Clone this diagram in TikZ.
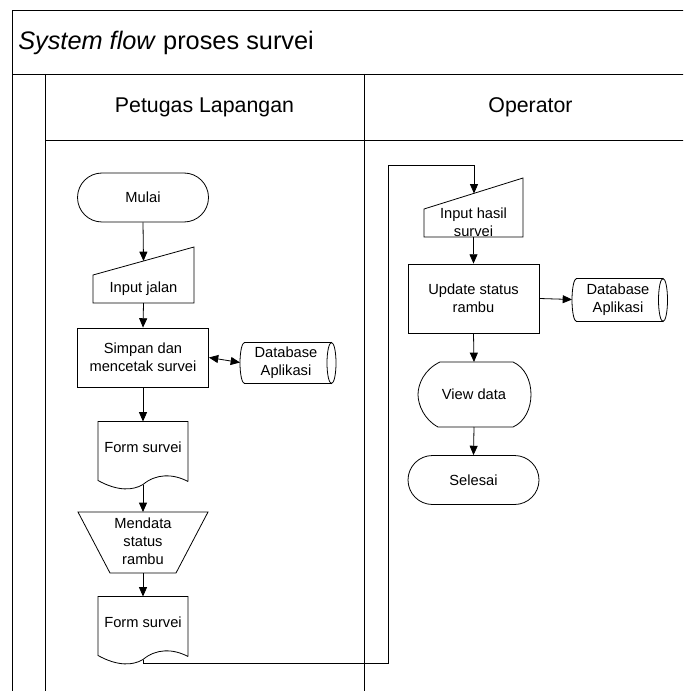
\documentclass[tikz,border=0pt]{standalone}
\usepackage{fontspec}
\setmainfont{Liberation Sans}
\usetikzlibrary{shapes.misc,arrows.meta,calc}

\begin{document}
\begin{tikzpicture}
[x=0.75pt,y=-0.75pt,%
  linedecorate/.style={line width=0.6pt},%
  arrowdecorate/.style={line width=0.6pt,-{Triangle[length=7pt,width=6pt]}},%
  textdecorate/.style={font=\fontsize{11}{13.5}\selectfont,align=center,inner sep=0pt},%
  terminal/.style={textdecorate,shape=rounded rectangle,draw,line width=0.6pt,
    minimum width=98.25pt,minimum height=36.75pt},%
  prosesbox/.style={textdecorate,shape=rectangle,draw,line width=0.6pt,
    minimum width=98.25pt,minimum height=#1},%
  freebox/.style={textdecorate}]
%% page and swimlanes
\useasboundingbox (0,0) rectangle (683,691);
\fill[white] (0,0) rectangle (683,691);
\clip (0,0) rectangle (683,691);
\draw[linedecorate] (700,10) -| (12,700);
\draw[linedecorate] (12,74) -- (700,74);
\draw[linedecorate] (45,74) -- (45,700);
\draw[linedecorate] (45,140) -- (700,140);
\draw[linedecorate] (364,74) -- (364,700);
\node (judul) [anchor=west,inner sep=0pt,font=\fontsize{19}{23}\selectfont]
  at (18,43) {\textit{System flow} proses survei};
\node (petugas) [font=\fontsize{16}{19}\selectfont] at (204.5,107) {Petugas Lapangan};
\node (operator) [font=\fontsize{16}{19}\selectfont] at (530.5,107) {Operator};
%% symbols with their own shape
\node (mulai) at (143,197.5) [terminal] {Mulai};
\node (selesai) at (473.5,480) [terminal] {Selesai};
\node (simpan) at (143,357.5) [prosesbox=44.25pt] {Simpan dan\\mencetak survei};
\node (update) at (473.5,298.5) [prosesbox=51.75pt] {Update status\\rambu};
%% symbols drawn by hand (only text here)
\foreach \nodename/\x/\y/\labeltext in {injalan/143.5/289/{Input jalan},
  inhasil/473.5/222/{Input hasil\\survei}, dbsatu/286/363/{Database\\Aplikasi},
  dbdua/618/300/{Database\\Aplikasi}, formsatu/143/447/{Form survei},
  mendata/143/541.5/{Mendata\\status\\rambu}, formdua/143/622/{Form survei},
  lihat/474/394.5/{View data}} {
  \node (\nodename) at (\x,\y) [freebox] {\labeltext};
}
% manual input
\draw[linedecorate] ($(injalan)+(-50.5,14)$) -- ($(injalan)+(50.5,14)$)
  -- ($(injalan)+(50.5,-42)$) -- ($(injalan)+(-50.5,-14)$) -- cycle;
\draw[linedecorate] ($(inhasil)+(-49.5,15)$) -- ($(inhasil)+(49.5,15)$)
  -- ($(inhasil)+(49.5,-44)$) -- ($(inhasil)+(-49.5,-13)$) -- cycle;
% database
\draw[linedecorate] ($(dbsatu)+(-41.5,-20.5)$) -- ($(dbsatu)+(45.5,-20.5)$)
  ($(dbsatu)+(45.5,20.5)$) -- ($(dbsatu)+(-41.5,20.5)$)
  arc[start angle=90,end angle=270,x radius=4.5,y radius=20.5];
\draw[linedecorate] ($(dbsatu)+(45.5,0)$) ellipse[x radius=4.5,y radius=20.5];
\draw[linedecorate] ($(dbdua)+(-41.5,-21.5)$) -- ($(dbdua)+(45,-21.5)$)
  ($(dbdua)+(45,21.5)$) -- ($(dbdua)+(-41.5,21.5)$)
  arc[start angle=90,end angle=270,x radius=4.5,y radius=21.5];
\draw[linedecorate] ($(dbdua)+(45,0)$) ellipse[x radius=4.5,y radius=21.5];
% documents
\foreach \doc in {formsatu,formdua} {
  \draw[linedecorate] ($(\doc)+(45,34.5)$) -- ($(\doc)+(45,-25.5)$)
    -- ($(\doc)+(-45,-25.5)$) -- ($(\doc)+(-45,33.5)$)
    .. controls ($(\doc)+(-25,44.5)$) and ($(\doc)+(-10,43.5)$) .. ($(\doc)+(0,37.5)$)
    .. controls ($(\doc)+(13,26.5)$) and ($(\doc)+(30,26.5)$) .. ($(\doc)+(45,34.5)$);
}
% manual operation
\draw[linedecorate] ($(mendata)+(-65,-29.5)$) -- ($(mendata)+(65,-29.5)$)
  -- ($(mendata)+(33,31.5)$) -- ($(mendata)+(-33,31.5)$) -- cycle;
% display
\draw[linedecorate] ($(lihat)+(-34,-32.5)$) -- ($(lihat)+(39,-32.5)$)
  .. controls ($(lihat)+(63,-22)$) and ($(lihat)+(63,22)$) .. ($(lihat)+(39,32.5)$)
  -- ($(lihat)+(-36,32.5)$)
  .. controls ($(lihat)+(-50,25)$) and ($(lihat)+(-56,10)$) .. ($(lihat)+(-56,0)$)
  .. controls ($(lihat)+(-56,-10)$) and ($(lihat)+(-50,-25)$) .. ($(lihat)+(-34,-32.5)$)
  -- cycle;
%% flow lines
\coordinate (balik1) at (388,663);
\coordinate (balik2) at (388,165);
\draw[arrowdecorate] (mulai.south) -- ($(injalan)+(0,-28)$);
\draw[arrowdecorate] ($(injalan)+(0,14)$) -- (simpan.north);
\draw[linedecorate,{Triangle[length=7pt,width=6pt]}-{Triangle[length=7pt,width=6pt]}]
  (simpan.east) -- ($(dbsatu)+(-46,-0.5)$);
\draw[arrowdecorate] (simpan.south) -- ($(formsatu)+(0,-25.5)$);
\draw[arrowdecorate] ($(formsatu)+(0,37.5)$) -- ($(mendata)+(0,-29.5)$);
\draw[arrowdecorate] ($(mendata)+(0,31.5)$) -- ($(formdua)+(0,-25.5)$);
\draw[arrowdecorate] ($(formdua)+(0,37.5)$) |- (balik1) -- (balik2)
  -| ($(inhasil)+(0.5,-28.5)$);
\draw[arrowdecorate] ($(inhasil)+(0,15)$) -- (update.north);
\draw[arrowdecorate] (update.east) -- ($(dbdua)+(-46,-0.5)$);
\draw[arrowdecorate] (update.south) -- ($(lihat)+(0,-32.5)$);
\draw[arrowdecorate] ($(lihat)+(0,32.5)$) -- (selesai.north);
\end{tikzpicture}
\end{document}
